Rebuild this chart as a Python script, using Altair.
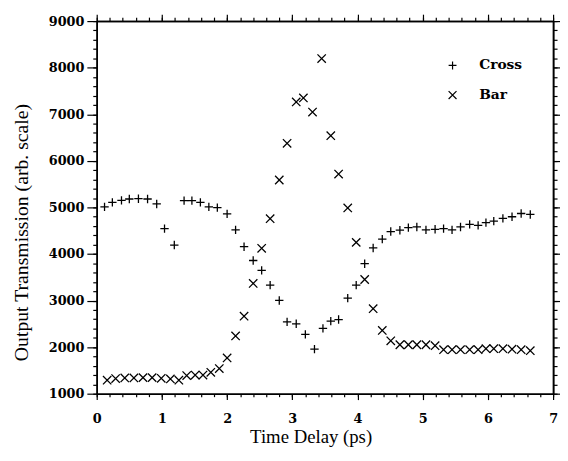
import altair as alt
import pandas as pd

series_names = ["Cross", "Bar"]

cross_x = [0.12, 0.24, 0.38, 0.50, 0.64, 0.78, 0.92, 1.04, 1.19, 1.34,
           1.46, 1.59, 1.72, 1.85, 2.00, 2.13, 2.26, 2.40, 2.53, 2.66,
           2.80, 2.92, 3.06, 3.20, 3.34, 3.47, 3.59, 3.71, 3.85, 3.98,
           4.11, 4.24, 4.38, 4.51, 4.65, 4.78, 4.91, 5.05, 5.19, 5.32,
           5.45, 5.58, 5.72, 5.85, 5.97, 6.09, 6.23, 6.37, 6.51, 6.65]
cross_y = [5010, 5108, 5150, 5180, 5186, 5180, 5074, 4545, 4192, 5144,
           5144, 5108, 5010, 4995, 4862, 4516, 4156, 3860, 3649, 3332,
           3002, 2543, 2501, 2275, 1958, 2402, 2558, 2592, 3051, 3332,
           3791, 4129, 4319, 4482, 4510, 4566, 4580, 4516, 4530, 4545,
           4516, 4580, 4636, 4615, 4672, 4706, 4763, 4799, 4869, 4848]

bar_x = [0.16, 0.29, 0.43, 0.57, 0.71, 0.85, 0.99, 1.13, 1.26, 1.38,
         1.51, 1.63, 1.75, 1.88, 2.00, 2.13, 2.26, 2.40, 2.53, 2.66,
         2.80, 2.92, 3.06, 3.17, 3.31, 3.45, 3.59, 3.71, 3.85, 3.98,
         4.11, 4.24, 4.38, 4.51, 4.65, 4.78, 4.91, 5.05, 5.19, 5.32,
         5.45, 5.58, 5.72, 5.85, 5.97, 6.09, 6.23, 6.37, 6.51, 6.65]
bar_y = [1290, 1324, 1338, 1338, 1345, 1345, 1330, 1317, 1290, 1390,
         1400, 1400, 1460, 1540, 1768, 2240, 2664, 3368, 4122, 4757,
         5588, 6376, 7264, 7349, 7046, 8195, 6539, 5715, 4989, 4249,
         3452, 2825, 2359, 2135, 2051, 2051, 2051, 2051, 2030, 1945,
         1945, 1945, 1945, 1945, 1966, 1966, 1966, 1955, 1945, 1923]

x_major_ticks = [0, 1, 2, 3, 4, 5, 6, 7]
x_minor_ticks = [round(i * 0.2, 1) for i in range(36)]
y_major_ticks = list(range(1000, 9001, 1000))
y_minor_ticks = list(range(1000, 9001, 200))

PLUS = "M-1,0L1,0M0,-1L0,1"
TIMES = "M-1,-1L1,1M-1,1L1,-1"

df = pd.concat([
    pd.DataFrame({"x": cross_x, "y": cross_y, "series": series_names[0]}),
    pd.DataFrame({"x": bar_x, "y": bar_y, "series": series_names[1]}),
], ignore_index=True)

x_scale = alt.Scale(domain=[0, 7], nice=False, zero=False)
y_scale = alt.Scale(domain=[1000, 9000], nice=False, zero=False)

x_axis = alt.Axis(
    orient="bottom", values=x_major_ticks, format="d", tickSize=6,
    labelPadding=13, labelFlush=False, labelOverlap=False,
    title="Time Delay (ps)", titleX=217, titleY=50,
    titleAlign="center", titleBaseline="alphabetic",
    titleFont="Liberation Serif", titleFontSize=19, titleFontWeight="normal",
)
y_axis = alt.Axis(
    orient="left", values=y_major_ticks, format="d", tickSize=10,
    labelPadding=3, labelFlush=False, labelOverlap=False,
    title="Output Transmission (arb. scale)", titleX=-70, titleY=214,
    titleAngle=270, titleAlign="center", titleBaseline="alphabetic",
    titleFont="Liberation Serif", titleFontSize=20, titleFontWeight="normal",
)


def bare_axis(orient, values, size):
    return alt.Axis(orient=orient, values=values, labels=False, title=None,
                    tickSize=size)


points = alt.Chart(df).mark_point(
    filled=False, color="black", strokeWidth=1.3, size=72, opacity=1
).encode(
    x=alt.X("x:Q", scale=x_scale, axis=x_axis),
    y=alt.Y("y:Q", scale=y_scale, axis=y_axis),
    shape=alt.Shape(
        "series:N",
        scale=alt.Scale(domain=series_names, range=[PLUS, TIMES]),
        legend=alt.Legend(
            orient="none", legendX=354, legendY=38, title=None,
            labelFont="DejaVu Serif", labelFontSize=14, labelFontWeight="bold",
            labelColor="black", labelOffset=20, rowPadding=16, padding=0,
            symbolSize=64, symbolStrokeWidth=1.2, symbolStrokeColor="black",
            symbolFillColor="transparent",
        ),
    ),
)


def frame(xa, ya):
    return alt.Chart(df).mark_point(opacity=0).encode(
        x=alt.X("x:Q", scale=x_scale, axis=xa),
        y=alt.Y("y:Q", scale=y_scale, axis=ya),
    )


minor_bl = frame(bare_axis("bottom", x_minor_ticks, 3),
                 bare_axis("left", y_minor_ticks, 4))
major_tr = frame(bare_axis("top", x_major_ticks, 7),
                 bare_axis("right", y_major_ticks, 7))
minor_tr = frame(bare_axis("top", x_minor_ticks, 4),
                 bare_axis("right", y_minor_ticks, 4))

chart = alt.layer(points, minor_bl, major_tr, minor_tr).resolve_axis(
    x="independent", y="independent"
).properties(
    width=463, height=378, autosize="none",
    padding={"left": 90, "top": 10, "right": 7, "bottom": 65},
    background="white",
).configure_axis(
    domainColor="black", domainWidth=1.6, tickColor="black", tickWidth=1.2,
    labelFont="DejaVu Serif", labelFontSize=13, labelFontWeight="bold",
    labelColor="black", titleColor="black", grid=False,
).configure_view(strokeWidth=0)

chart.save("out.html", embed_options={"renderer": "svg", "actions": False})
